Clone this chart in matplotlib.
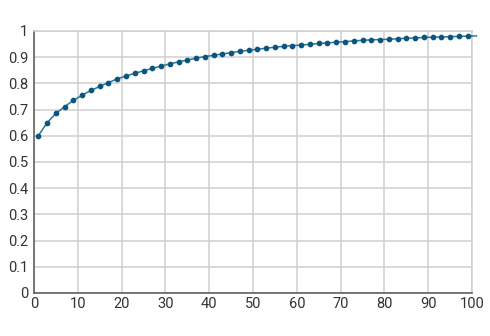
import matplotlib
matplotlib.use("Agg")
import matplotlib.pyplot as plt
from matplotlib.ticker import FuncFormatter

# x positions of the markers (odd values), plus the tail end of the line past 100
x_values = list(range(1, 102, 2))
y_values = [
    0.600, 0.650, 0.685, 0.711, 0.735, 0.755, 0.773, 0.788, 0.803, 0.817,
    0.828, 0.838, 0.848, 0.857, 0.866, 0.874, 0.882, 0.889, 0.896, 0.902,
    0.907, 0.912, 0.917, 0.922, 0.926, 0.930, 0.934, 0.938, 0.941, 0.944,
    0.946, 0.949, 0.952, 0.954, 0.957, 0.959, 0.962, 0.964, 0.966, 0.967,
    0.968, 0.970, 0.972, 0.973, 0.975, 0.976, 0.977, 0.978, 0.979, 0.980,
    0.981,
]
x_ticks = list(range(0, 101, 10))
y_ticks = [i / 10 for i in range(11)]

plt.rcParams["font.family"] = ["Roboto", "DejaVu Sans"]

fig = plt.figure(figsize=(4.9, 3.36), dpi=100)
ax = fig.add_axes([0.0694, 0.128, 0.8939, 0.780])

ax.plot(x_values, y_values, color="#2b7897", linewidth=1.1,
        marker="o", markersize=3.1, markerfacecolor="#0b5680",
        markeredgecolor="#0b5680", markevery=list(range(len(x_values) - 1)),
        clip_on=False, zorder=3)

ax.set_xlim(0, 100)
ax.set_ylim(0, 1)
ax.set_xticks(x_ticks)
ax.set_yticks(y_ticks)
ax.yaxis.set_major_formatter(FuncFormatter(lambda v, _: f"{v:g}"))
ax.tick_params(length=0, labelsize=10.5, colors="#333333", pad=4)
ax.tick_params(axis="x", pad=3)

ax.grid(True, color="#cfcfcf", linewidth=1.1)
ax.set_axisbelow(True)
for side in ("top", "right"):
    ax.spines[side].set_color("#cfcfcf")
    ax.spines[side].set_linewidth(1.1)
for side in ("left", "bottom"):
    ax.spines[side].set_color("#555555")
    ax.spines[side].set_linewidth(1.1)

fig.savefig("out.png", dpi=100)
